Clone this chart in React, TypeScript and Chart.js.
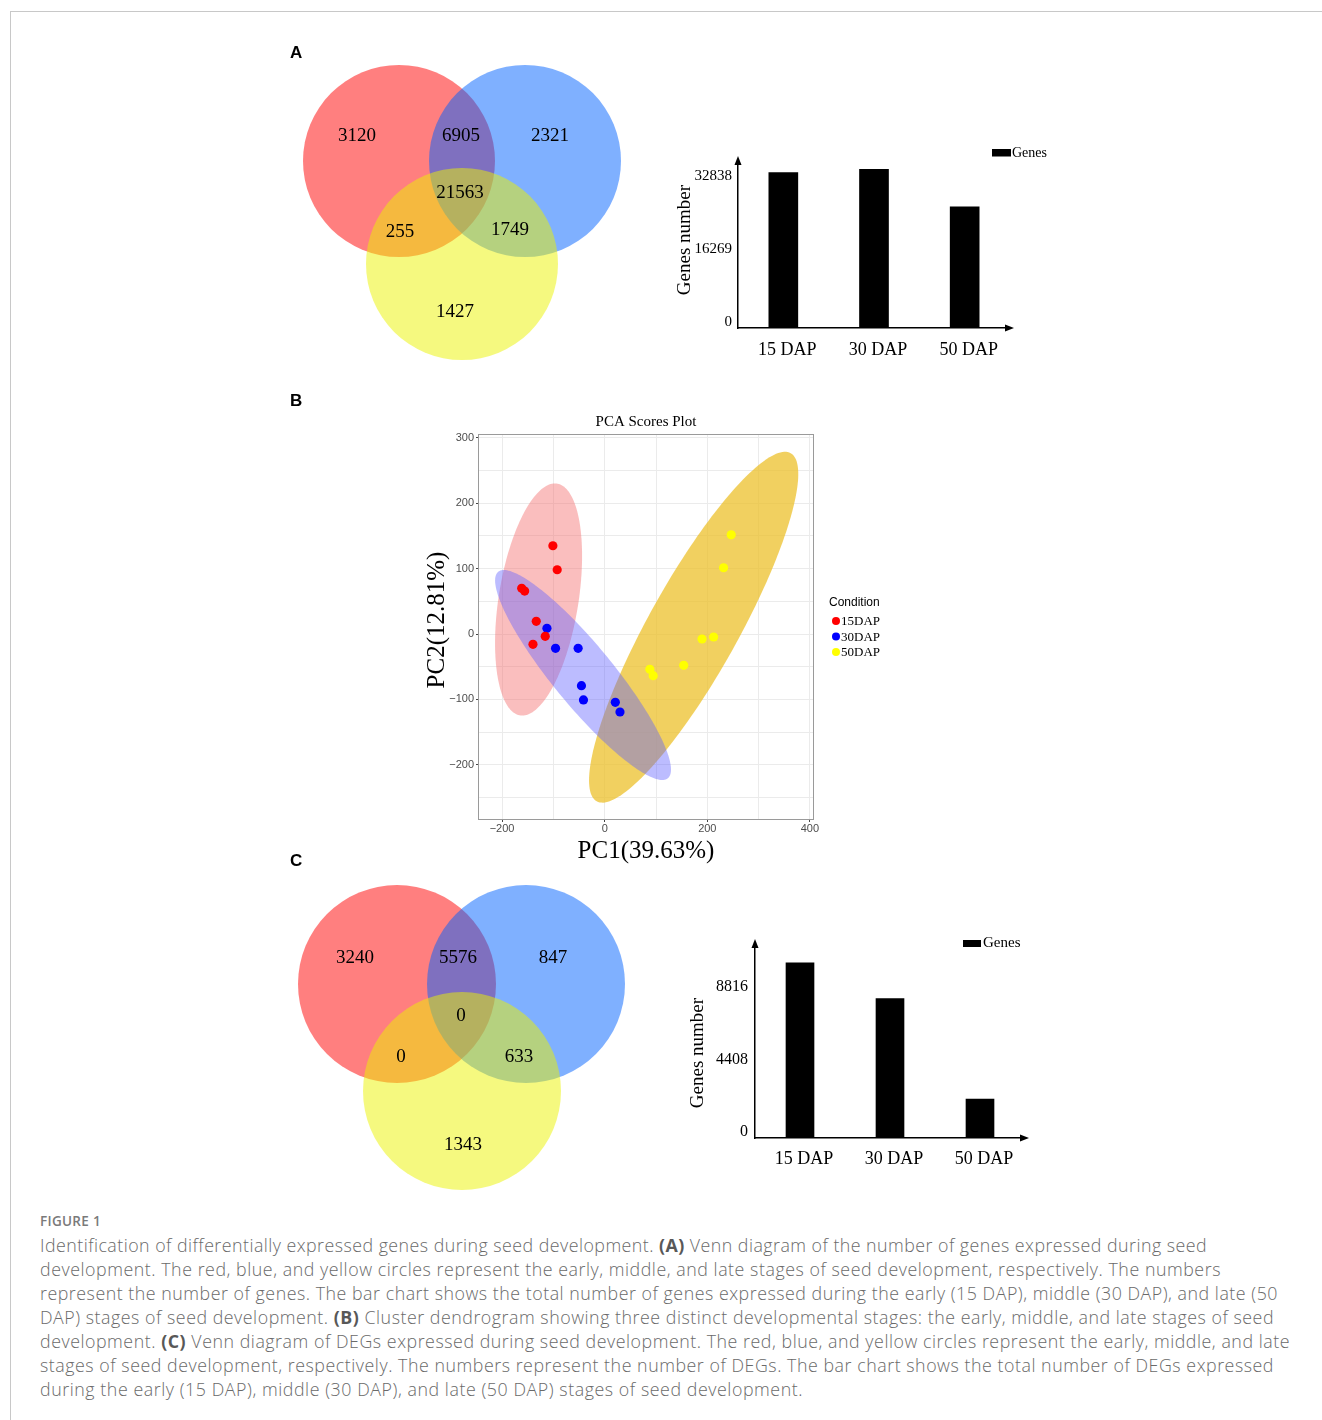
import React, { useEffect, useLayoutEffect, useRef } from 'react';
import { Chart, registerables } from 'chart.js';

Chart.register(...registerables);

// ---------------- DATA ----------------
const STAGES = ['15 DAP', '30 DAP', '50 DAP'];

// Venn region counts, order: [only 15, 15∩30, only 30, all three, 15∩50, 30∩50, only 50]
const VENN_A_COUNTS = [3120, 6905, 2321, 21563, 255, 1749, 1427];
const VENN_C_COUNTS = [3240, 5576, 847, 0, 0, 633, 1343];

// Bar charts (read against the printed axis labels)
const BAR_A_VALUES = [34900, 35600, 27200];
const BAR_A_TICKS = [0, 16269, 32838];
const BAR_A_MAX = 37700;
const BAR_C_VALUES = [10640, 8470, 2370];
const BAR_C_TICKS = [0, 4408, 8816];
const BAR_C_MAX = 11850;

// PCA scores
const PCA_GROUPS = ['15DAP', '30DAP', '50DAP'];
const PC1_15 = [-101, -92.6, -161.8, -156, -133.4, -115.9, -139.8];
const PC2_15 = [135, 98.3, 69.9, 65.7, 19.4, -3.5, -15.8];
const PC1_30 = [-112.6, -95.8, -51.8, -45.3, -41.4, 20.7, 29.8];
const PC2_30 = [8.7, -21.9, -21.9, -79, -100.9, -104.5, -119.3];
const PC1_50 = [246.6, 231.7, 189.7, 212.3, 154, 88, 94.5];
const PC2_50 = [151.8, 101.4, -7.6, -4.6, -47.9, -54, -63.7];
// confidence ellipses: [centre PC1, centre PC2, half-width PC1, half-height PC2, correlation]
const ELLIPSE_15 = [-128.9, 52.8, 84.8, 177.6, 0.375];
const ELLIPSE_30 = [-42.2, -62.7, 171.4, 160.6, -0.9];
const ELLIPSE_50 = [173.4, 10.4, 203.9, 268.4, 0.873];
const PC1_TICKS = [-200, -100, 0, 100, 200, 300, 400];
const PC2_TICKS = [-250, -200, -150, -100, -50, 0, 50, 100, 150, 200, 250, 300];
const PC1_RANGE = [-245, 406];
const PC2_RANGE = [-283, 306];

// ---------------- STYLE ----------------
const SERIF = '"Liberation Serif", "Times New Roman", serif';
const SANS = '"Liberation Sans", Arial, sans-serif';
const VENN_FILLS = ['rgba(255,0,0,0.5)', 'rgba(0,98,255,0.5)', 'rgba(235,243,0,0.5)'];
const PCA_POINT_COLORS = ['#ff0000', '#0000ff', '#ffff00'];
const PCA_ELLIPSE_FILLS = ['rgba(245,110,110,0.45)', 'rgba(95,95,255,0.42)', 'rgba(235,190,35,0.72)'];

// Venn geometry (canvas-local data units)
const VENN_A_GEOM = {
  r: 96,
  centers: [[119, 121], [245, 121], [182, 224]],
  labels: [[77, 96], [181, 96], [270, 96], [180, 153], [120, 192], [230, 190], [175, 272]],
};
const VENN_C_GEOM = {
  r: 99,
  centers: [[117, 114], [246, 114], [182, 221]],
  labels: [[75, 88], [178, 88], [273, 88], [181, 146], [121, 187], [239, 187], [183, 275]],
};

function VennChart(props: any) {
  const { counts, geom, left, top, width, height } = props;
  const ref = useRef<HTMLCanvasElement>(null);
  useEffect(() => {
    const labelPlugin = {
      id: 'vennLabels',
      afterDatasetsDraw(chart: any) {
        const { ctx, scales } = chart;
        ctx.save();
        ctx.fillStyle = '#000';
        ctx.font = `19px ${SERIF}`;
        ctx.textAlign = 'center';
        ctx.textBaseline = 'middle';
        counts.forEach((c: number, i: number) => {
          const [x, y] = geom.labels[i];
          ctx.fillText(String(c), scales.x.getPixelForValue(x), scales.y.getPixelForValue(y));
        });
        ctx.restore();
      },
    };
    const radius = (ctx: any) => {
      const s = ctx.chart.scales.x;
      if (!s) return 0;
      return Math.abs(s.getPixelForValue(geom.r) - s.getPixelForValue(0));
    };
    const chart = new Chart(ref.current as HTMLCanvasElement, {
      type: 'scatter',
      data: {
        datasets: [
          {
            label: 'sets',
            data: geom.centers.map((c: number[]) => ({ x: c[0], y: c[1] })),
            backgroundColor: VENN_FILLS,
            borderWidth: 0,
            pointRadius: radius as any,
            pointHoverRadius: radius as any,
          },
        ],
      },
      options: {
        animation: false,
        responsive: false,
        events: [],
        layout: { padding: 0 },
        plugins: { legend: { display: false }, tooltip: { enabled: false } },
        scales: {
          x: { type: 'linear', display: false, min: 0, max: width },
          y: { type: 'linear', display: false, min: 0, max: height, reverse: true },
        },
      },
      plugins: [labelPlugin],
    } as any);
    return () => chart.destroy();
  }, []);
  return (
    <canvas ref={ref} width={width} height={height} style={{ position: 'absolute', left, top, width, height }} />
  );
}

function BarChart(props: any) {
  const { values, ticks, max, left, top, width, height, yAxisW, xAxisH, padTop, padRight, tickFont, yPad, xPad, barThickness, legend, yTitle, legendFont } = props;
  const ref = useRef<HTMLCanvasElement>(null);
  useEffect(() => {
    const deco = {
      id: 'barDeco',
      afterDraw(chart: any) {
        const { ctx, chartArea } = chart;
        const { left: l, top: t, right: r, bottom: b } = chartArea;
        ctx.save();
        ctx.fillStyle = '#000';
        // arrows
        ctx.beginPath();
        ctx.moveTo(l, t - 4);
        ctx.lineTo(l - 3.5, t + 5);
        ctx.lineTo(l + 3.5, t + 5);
        ctx.closePath();
        ctx.fill();
        ctx.beginPath();
        ctx.moveTo(r + 4, b);
        ctx.lineTo(r - 5, b - 3.5);
        ctx.lineTo(r - 5, b + 3.5);
        ctx.closePath();
        ctx.fill();
        // legend
        const ds = chart.data.datasets[0];
        ctx.fillRect(legend[0], legend[1], legend[2], legend[3]);
        ctx.font = `${legendFont}px ${SERIF}`;
        ctx.textAlign = 'left';
        ctx.textBaseline = 'middle';
        ctx.fillText(ds.label, legend[4], legend[5]);
        // y title
        ctx.translate(yTitle[0], yTitle[1]);
        ctx.rotate(-Math.PI / 2);
        ctx.font = `19px ${SERIF}`;
        ctx.textAlign = 'center';
        ctx.fillText('Genes number', 0, 0);
        ctx.restore();
      },
    };
    const chart = new Chart(ref.current as HTMLCanvasElement, {
      type: 'bar',
      data: {
        labels: STAGES,
        datasets: [{ label: 'Genes', data: values, backgroundColor: '#000', barThickness }],
      },
      options: {
        animation: false,
        responsive: false,
        events: [],
        layout: { padding: { top: padTop, right: padRight, left: 0, bottom: 0 } },
        plugins: { legend: { display: false }, tooltip: { enabled: false } },
        scales: {
          x: {
            grid: { display: false, drawTicks: false, tickLength: 0 },
            border: { display: true, color: '#000', width: 1.5 },
            ticks: { color: '#000', font: { family: SERIF, size: 18 }, padding: xPad, labelOffset: 4, maxRotation: 0 },
            afterFit: (s: any) => { s.height = xAxisH; },
          },
          y: {
            min: 0,
            max,
            grid: { display: false, drawTicks: false, tickLength: 0 },
            border: { display: true, color: '#000', width: 1.5 },
            afterBuildTicks: (s: any) => { s.ticks = ticks.map((v: number) => ({ value: v })); },
            ticks: { color: '#000', font: { family: SERIF, size: tickFont }, padding: yPad, labelOffset: -6, callback: (v: any) => String(v) },
            afterFit: (s: any) => { s.width = yAxisW; },
          },
        },
      },
      plugins: [deco],
    } as any);
    return () => chart.destroy();
  }, []);
  return (
    <canvas ref={ref} width={width} height={height} style={{ position: 'absolute', left, top, width, height }} />
  );
}

function PcaChart() {
  const ref = useRef<HTMLCanvasElement>(null);
  const W = 480, H = 460;
  useEffect(() => {
    const ellipses = [ELLIPSE_15, ELLIPSE_30, ELLIPSE_50];
    const deco = {
      id: 'pcaDeco',
      beforeDatasetsDraw(chart: any) {
        const { ctx, chartArea, scales } = chart;
        ctx.save();
        ctx.beginPath();
        ctx.rect(chartArea.left, chartArea.top, chartArea.right - chartArea.left, chartArea.bottom - chartArea.top);
        ctx.clip();
        [2, 0, 1].forEach((gi) => {
          const [cx, cy, hx, hy, rho] = ellipses[gi];
          const s = Math.sqrt(1 - rho * rho);
          ctx.beginPath();
          for (let k = 0; k <= 180; k++) {
            const t = (k / 180) * Math.PI * 2;
            const x = cx + hx * Math.cos(t);
            const y = cy + hy * (rho * Math.cos(t) + s * Math.sin(t));
            const px = scales.x.getPixelForValue(x);
            const py = scales.y.getPixelForValue(y);
            if (k === 0) ctx.moveTo(px, py);
            else ctx.lineTo(px, py);
          }
          ctx.closePath();
          ctx.fillStyle = PCA_ELLIPSE_FILLS[gi];
          ctx.fill();
        });
        ctx.restore();
      },
      afterDraw(chart: any) {
        const { ctx, chartArea } = chart;
        const { left: l, top: t, right: r, bottom: b } = chartArea;
        ctx.save();
        ctx.strokeStyle = '#9a9a9a';
        ctx.lineWidth = 1;
        ctx.strokeRect(Math.round(l) - 0.5, Math.round(t) + 0.5, Math.round(r - l) + 1, Math.round(b - t));
        ctx.fillStyle = '#000';
        ctx.textAlign = 'center';
        ctx.textBaseline = 'middle';
        ctx.font = `15px ${SERIF}`;
        ctx.fillText('PCA Scores Plot', (l + r) / 2, t - 12);
        ctx.font = `25px ${SERIF}`;
        ctx.fillText('PC1(39.63%)', (l + r) / 2, 441);
        ctx.save();
        ctx.translate(17, 210);
        ctx.rotate(-Math.PI / 2);
        ctx.fillText('PC2(12.81%)', 0, 0);
        ctx.restore();
        // legend
        ctx.textAlign = 'left';
        ctx.font = `12px ${SANS}`;
        ctx.fillText('Condition', r + 16, 193);
        chart.data.datasets.forEach((ds: any, i: number) => {
          const y = 211 + i * 15.5;
          ctx.beginPath();
          ctx.arc(r + 23, y, 4, 0, Math.PI * 2);
          ctx.fillStyle = ds.backgroundColor;
          ctx.fill();
          ctx.fillStyle = '#000';
          ctx.font = `13px ${SERIF}`;
          ctx.fillText(ds.label, r + 28, y + 1);
        });
        ctx.restore();
      },
    };
    const groups = [[PC1_15, PC2_15], [PC1_30, PC2_30], [PC1_50, PC2_50]];
    const chart = new Chart(ref.current as HTMLCanvasElement, {
      type: 'scatter',
      data: {
        datasets: groups.map((g, i) => ({
          label: PCA_GROUPS[i],
          data: g[0].map((x, j) => ({ x, y: g[1][j] })),
          backgroundColor: PCA_POINT_COLORS[i],
          borderWidth: 0,
          pointRadius: 4.6,
        })),
      },
      options: {
        animation: false,
        responsive: false,
        events: [],
        layout: { padding: { top: 24, right: 87, left: 0, bottom: 0 } },
        plugins: { legend: { display: false }, tooltip: { enabled: false } },
        scales: {
          x: {
            type: 'linear',
            min: PC1_RANGE[0],
            max: PC1_RANGE[1],
            afterBuildTicks: (s: any) => { s.ticks = PC1_TICKS.map((v) => ({ value: v })); },
            grid: {
              color: '#ebebeb',
              tickLength: 3,
              tickColor: (c: any) => (c.tick && c.tick.value % 200 === 0 ? '#444' : 'rgba(0,0,0,0)'),
            },
            border: { display: false },
            ticks: {
              color: '#4d4d4d',
              font: { family: SANS, size: 11 },
              padding: 0,
              maxRotation: 0,
              autoSkip: false,
              callback: (v: any) => (v % 200 === 0 ? String(v).replace('-', '\u2212') : ''),
            },
            afterFit: (s: any) => { s.height = 51; },
          },
          y: {
            type: 'linear',
            min: PC2_RANGE[0],
            max: PC2_RANGE[1],
            afterBuildTicks: (s: any) => { s.ticks = PC2_TICKS.map((v) => ({ value: v })); },
            grid: {
              color: '#ebebeb',
              tickLength: 3,
              tickColor: (c: any) => (c.tick && c.tick.value % 100 === 0 ? '#444' : 'rgba(0,0,0,0)'),
            },
            border: { display: false },
            ticks: {
              color: '#4d4d4d',
              font: { family: SANS, size: 11 },
              padding: 2,
              autoSkip: false,
              callback: (v: any) => (v % 100 === 0 ? String(v).replace('-', '\u2212') : ''),
            },
            afterFit: (s: any) => { s.width = 59; },
          },
        },
      },
      plugins: [deco],
    } as any);
    return () => chart.destroy();
  }, []);
  return <canvas ref={ref} width={W} height={H} style={{ position: 'absolute', left: 420, top: 410, width: W, height: H }} />;
}

const CAPTION_LINES: Array<Array<[string, boolean]>> = [
  [['Identification of differentially expressed genes during seed development. ', false], ['(A)', true], [' Venn diagram of the number of genes expressed during seed', false]],
  [['development. The red, blue, and yellow circles represent the early, middle, and late stages of seed development, respectively. The numbers', false]],
  [['represent the number of genes. The bar chart shows the total number of genes expressed during the early (15 DAP), middle (30 DAP), and late (50', false]],
  [['DAP) stages of seed development. ', false], ['(B)', true], [' Cluster dendrogram showing three distinct developmental stages: the early, middle, and late stages of seed', false]],
  [['development. ', false], ['(C)', true], [' Venn diagram of DEGs expressed during seed development. The red, blue, and yellow circles represent the early, middle, and late', false]],
  [['stages of seed development, respectively. The numbers represent the number of DEGs. The bar chart shows the total number of DEGs expressed', false]],
  [['during the early (15 DAP), middle (30 DAP), and late (50 DAP) stages of seed development.', false]],
];
// target line widths (px) of the caption lines, to keep the original line breaks
const CAPTION_WIDTHS = [1167, 1181, 1238, 1234, 1250, 1234, 763];

function Caption() {
  const refs = useRef<Array<HTMLDivElement | null>>([]);
  useLayoutEffect(() => {
    const fit = () => {
      refs.current.forEach((el, i) => {
        if (!el) return;
        el.style.letterSpacing = '0px';
        const w = el.getBoundingClientRect().width;
        const n = (el.textContent || '').length;
        el.style.letterSpacing = `${(CAPTION_WIDTHS[i] - w) / n}px`;
      });
    };
    fit();
    if ((document as any).fonts && (document as any).fonts.ready) (document as any).fonts.ready.then(fit);
  }, []);
  return (
    <div style={{ position: 'absolute', left: 40, top: 1233, fontFamily: '"Open Sans", Lato, sans-serif', fontWeight: 300, fontSize: 17.8, lineHeight: '24px', color: '#6a6a6a', whiteSpace: 'nowrap' }}>
      {CAPTION_LINES.map((line, i) => (
        <div key={i} ref={(el) => { refs.current[i] = el; }} style={{ width: 'max-content' }}>
          {line.map(([t, b], j) => (
            <span key={j} style={b ? { fontWeight: 700, color: '#585858' } : undefined}>{t}</span>
          ))}
        </div>
      ))}
    </div>
  );
}

const panelLetter = (t: string, top: number) => (
  <div style={{ position: 'absolute', left: 290, top, fontFamily: SANS, fontWeight: 700, fontSize: 17, lineHeight: '20px', color: '#000' }}>{t}</div>
);

export default function App() {
  return (
    <div style={{ position: 'absolute', left: 0, top: 0, width: 1322, height: 1420, overflow: 'hidden', background: '#fff' }}>
      <div style={{ position: 'absolute', left: 10, top: 11, width: 1312, height: 1409, borderTop: '1px solid #c8c8c8', borderLeft: '1px solid #c8c8c8', boxSizing: 'border-box' }} />
      <VennChart counts={VENN_A_COUNTS} geom={VENN_A_GEOM} left={280} top={40} width={360} height={330} />
      <BarChart
        values={BAR_A_VALUES} ticks={BAR_A_TICKS} max={BAR_A_MAX}
        left={660} top={140} width={400} height={230}
        yAxisW={78} xAxisH={42} padTop={20} padRight={50}
        tickFont={15} yPad={6} xPad={11} barThickness={29}
        legend={[332, 9, 19, 7.5, 352, 13.5]} legendFont={14} yTitle={[25, 100]}
      />
      <PcaChart />
      <VennChart counts={VENN_C_COUNTS} geom={VENN_C_GEOM} left={280} top={870} width={360} height={330} />
      <BarChart
        values={BAR_C_VALUES} ticks={BAR_C_TICKS} max={BAR_C_MAX}
        left={680} top={925} width={370} height={255}
        yAxisW={75} xAxisH={42} padTop={18} padRight={25}
        tickFont={16} yPad={7} xPad={10} barThickness={28}
        legend={[283, 15, 18, 7, 303, 18.5]} legendFont={15} yTitle={[18, 128]}
      />
      {panelLetter('A', 43)}
      {panelLetter('B', 391)}
      {panelLetter('C', 851)}
      <div style={{ position: 'absolute', left: 40, top: 1213, fontFamily: '"Open Sans", Lato, sans-serif', fontWeight: 600, fontSize: 13.5, letterSpacing: '0.3px', lineHeight: '16px', color: '#7a7a7a' }}>FIGURE 1</div>
      <Caption />
    </div>
  );
}
